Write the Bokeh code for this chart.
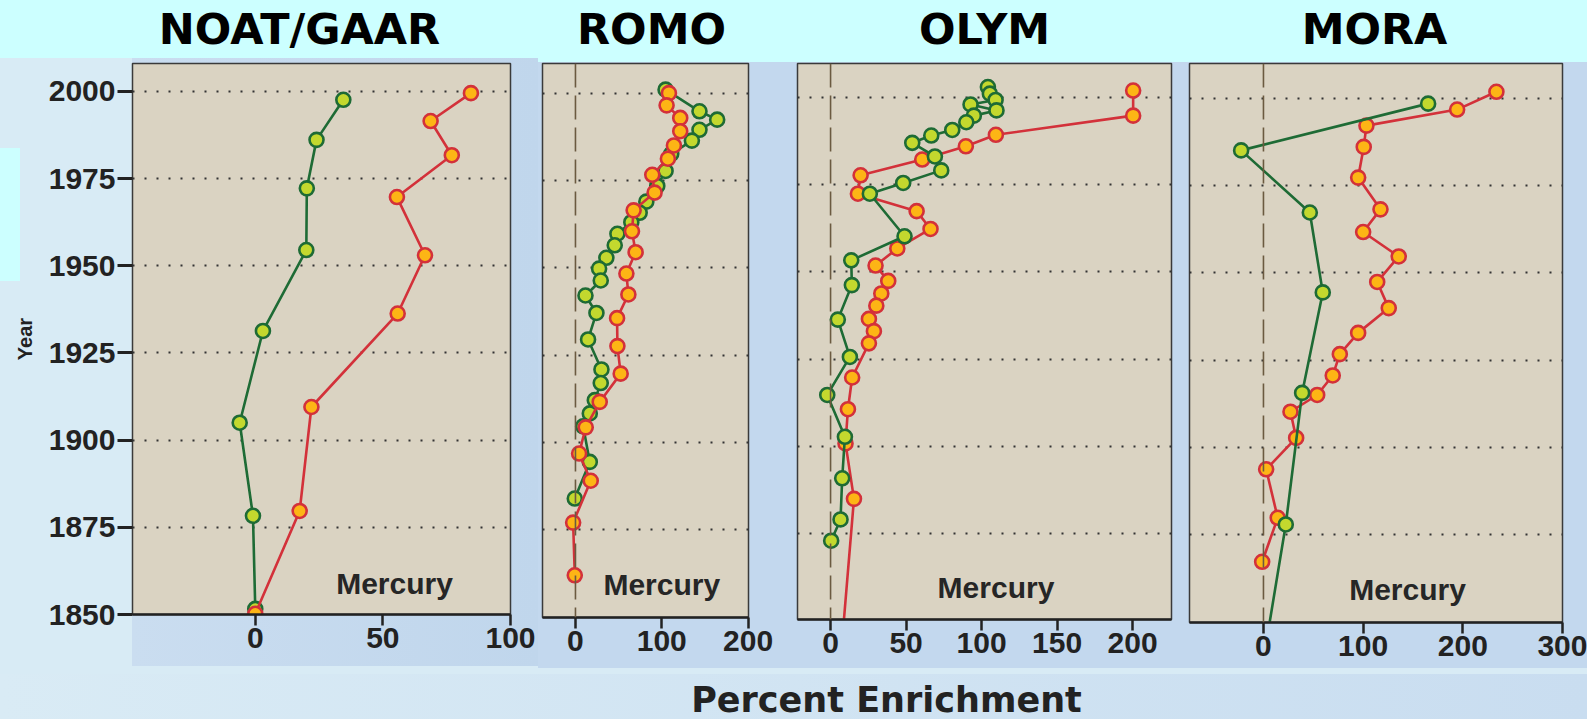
from bokeh.plotting import figure
from bokeh.layouts import row, column
from bokeh.models import Span, Label, FixedTicker, Range1d, Grid
from bokeh.embed import file_html
from bokeh.resources import INLINE

# ---------------- data ----------------
panel_titles = ["NOAT/GAAR", "ROMO", "OLYM", "MORA"]
element_label = "Mercury"
x_label = "Percent Enrichment"
y_label = "Year"

year_ticks = [1850, 1875, 1900, 1925, 1950, 1975, 2000]
grid_years = [1875, 1900, 1925, 1950, 1975, 2000]
noat_x_ticks = [0, 50, 100]
romo_x_ticks = [0, 100, 200]
olym_x_ticks = [0, 50, 100, 150, 200]
mora_x_ticks = [0, 100, 200, 300]

noat_green_year = [1997.6, 1986.1, 1972.2, 1954.5, 1931.3, 1905.0, 1878.3, 1851.6]
noat_green_val = [34.5, 24.0, 20.2, 20.0, 3.0, -6.1, -0.9, 0.0]
noat_red_year = [1999.5, 1991.5, 1981.7, 1969.7, 1953.0, 1936.3, 1909.5, 1879.7, 1850.2]
noat_red_val = [84.5, 68.7, 77.0, 55.5, 66.5, 55.8, 22.0, 17.4, 0.0]

romo_red_year = [2000.1, 1996.6, 1993.0, 1989.2, 1985.1, 1981.3, 1976.7, 1971.6, 1966.5, 1960.5, 1954.5,
                 1948.4, 1942.4, 1935.6, 1927.6, 1919.7, 1911.6, 1904.3, 1896.8, 1889.0, 1877.0, 1861.9]
romo_red_val = [108.3, 105.6, 121.4, 121.4, 114.1, 107.1, 89.0, 91.7, 67.4, 65.5, 69.7,
                59.0, 61.3, 48.2, 48.6, 52.4, 28.1, 11.9, 4.2, 17.7, -2.7, -0.8]
romo_green_year = [2001.1, 1994.9, 1992.5, 1989.6, 1986.5, 1982.7, 1977.8, 1973.5, 1969.0, 1965.8, 1963.1,
                   1959.8, 1956.5, 1952.9, 1949.8, 1946.4, 1942.1, 1937.1, 1929.5, 1920.9, 1917.0, 1912.1,
                   1908.3, 1904.6, 1894.4, 1883.9]
romo_green_val = [104.4, 143.7, 164.2, 143.7, 134.9, 111.0, 104.4, 94.8, 82.1, 74.4, 64.7,
                  48.6, 45.5, 35.8, 27.4, 29.3, 11.6, 24.3, 14.6, 30.1, 29.3, 22.4,
                  16.6, 8.9, 16.6, -0.8]

olym_red_year = [2002.0, 1994.8, 1989.3, 1986.0, 1982.2, 1977.7, 1972.4, 1967.4, 1962.3, 1956.7, 1951.8,
                 1947.4, 1943.8, 1940.3, 1936.5, 1933.0, 1929.5, 1919.7, 1910.6, 1900.8, 1884.9]
olym_red_val = [200.4, 200.4, 109.5, 89.6, 60.7, 19.9, 18.1, 57.0, 66.2, 44.2, 29.8,
                38.2, 33.6, 30.3, 25.4, 28.7, 25.4, 14.3, 11.5, 9.9, 15.5]
olym_red_tail_year = [1850.0]
olym_red_tail_val = [8.8]
olym_green_year = [2003.0, 2001.1, 1999.3, 1998.0, 1996.3, 1994.8, 1992.9, 1990.7, 1989.1, 1987.0, 1983.1,
                   1979.1, 1975.5, 1972.4, 1960.2, 1953.3, 1946.2, 1936.3, 1925.6, 1914.7, 1902.7, 1890.8,
                   1879.0, 1872.9]
olym_green_val = [104.2, 105.5, 109.3, 92.7, 109.9, 94.9, 89.9, 80.6, 66.7, 54.1, 69.1,
                  73.3, 48.1, 26.0, 49.0, 13.7, 14.1, 4.8, 12.8, -2.2, 9.5, 7.7,
                  6.6, 0.4]

mora_red_year = [2001.9, 1996.8, 1992.2, 1986.1, 1977.3, 1968.2, 1961.7, 1954.7, 1947.4, 1939.9, 1932.8,
                 1926.7, 1920.6, 1915.0, 1910.2, 1902.7, 1893.7, 1879.8, 1867.2]
mora_red_val = [233.7, 194.3, 103.3, 100.6, 95.0, 117.4, 100.0, 135.7, 114.1, 125.7, 95.0,
                76.6, 69.5, 53.9, 27.1, 32.8, 2.7, 14.3, -1.3]
mora_green_year = [1998.5, 1985.1, 1967.3, 1944.4, 1915.6, 1877.9]
mora_green_val = [165.2, -22.4, 46.5, 59.5, 38.8, 22.4]
mora_green_tail_year = [1850.0]
mora_green_tail_val = [6.3]

# ---------------- style ----------------
TAN = "#DAD3C2"
CYAN = "#CCFFFF"
LIGHT = "#D8EBF5"
BLUE = "#C3D8EE"
GREEN_LINE = "#1E6B35"
GREEN_FILL = "#C3D82E"
RED_LINE = "#D3313A"
RED_FILL = "#FDB515"
TXT = "#222222"
TITLE_CENTERS = [299, 651, 984, 1374]


def solid(c):
    return f"linear-gradient({c},{c})"


def blank_fig(width, height):
    f = figure(width=width, height=height, x_range=Range1d(0, width), y_range=Range1d(0, height),
               output_backend="svg", toolbar_location=None, min_border=0,
               x_axis_location=None, y_axis_location=None)
    f.outline_line_color = None
    f.background_fill_alpha = 0
    f.border_fill_alpha = 0
    f.xgrid.visible = False
    f.ygrid.visible = False
    return f


def make_panel(xr, yr, xticks, width, height, left, right, css_bg, show_y=False, zero_line=True):
    p = figure(width=width, height=height, x_range=Range1d(*xr), y_range=Range1d(*yr),
               output_backend="svg", toolbar_location=None,
               min_border_left=left, min_border_right=right, min_border_top=5, min_border_bottom=52,
               y_axis_location="left" if show_y else None)
    p.border_fill_alpha = 0
    p.background_fill_color = TAN
    p.outline_line_color = "#3a3a3a"
    p.outline_line_width = 1.5
    p.xgrid.visible = False
    p.ygrid.visible = False
    p.add_layout(Grid(dimension=1, ticker=FixedTicker(ticks=grid_years), grid_line_color="#333333",
                      grid_line_dash="2 10", grid_line_width=2))
    ax = p.xaxis[0]
    ax.ticker = FixedTicker(ticks=xticks)
    ax.major_label_text_font = "Liberation Sans"
    ax.major_label_text_font_size = "30px"
    ax.major_label_text_font_style = "bold"
    ax.major_label_text_color = TXT
    ax.major_label_standoff = 2
    ax.major_tick_out = 11
    ax.major_tick_in = 0
    ax.minor_tick_out = 0
    ax.minor_tick_in = 0
    ax.major_tick_line_width = 2.5
    ax.major_tick_line_color = TXT
    ax.axis_line_width = 2.5
    ax.axis_line_color = TXT
    if show_y:
        ay = p.yaxis[0]
        ay.ticker = FixedTicker(ticks=year_ticks)
        ay.major_label_text_font = "Liberation Sans"
        ay.major_label_text_font_size = "30px"
        ay.major_label_text_font_style = "bold"
        ay.major_label_text_color = TXT
        ay.major_label_standoff = 2
        ay.major_tick_out = 15
        ay.major_tick_in = 0
        ay.minor_tick_out = 0
        ay.minor_tick_in = 0
        ay.major_tick_line_width = 3
        ay.major_tick_line_color = TXT
        ay.axis_line_color = None
        ay.axis_label = y_label
        ay.axis_label_text_font = "Liberation Sans"
        ay.axis_label_text_font_size = "20px"
        ay.axis_label_text_font_style = "bold"
        ay.axis_label_text_color = TXT
        ay.axis_label_standoff = 10
    if zero_line:
        p.add_layout(Span(location=0, dimension="height", line_color="#6b5a40",
                          line_dash="24 8", line_width=1.6))
    p.styles = {"background": css_bg}
    return p


def add_series(p, years, vals, line_c, fill_c, tail_years=None, tail_vals=None):
    ly = list(years) + (list(tail_years) if tail_years else [])
    lv = list(vals) + (list(tail_vals) if tail_vals else [])
    p.line(lv, ly, line_color=line_c, line_width=2.6)
    p.scatter(vals, years, size=14, marker="circle", fill_color=fill_c,
              line_color=line_c, line_width=2.6)


def add_mercury(p, x, y):
    p.add_layout(Label(x=x, y=y, text=element_label, text_font="Liberation Sans",
                       text_font_size="30px", text_font_style="bold", text_color="#262626",
                       text_baseline="alphabetic", text_align="left"))


# Title strip (full width)
pt = blank_fig(1587, 58)
for ttl, cx in zip(panel_titles, TITLE_CENTERS):
    pt.add_layout(Label(x=cx, y=30, text=ttl, text_align="center", text_baseline="middle",
                        text_font="DejaVu Sans", text_font_size="43px", text_font_style="bold",
                        text_color="#000000"))
pt.styles = {"background": CYAN}

# Panel 1 (frame 63..614)
bg1 = (f"{solid(CYAN)} 0 90px / 20px 133px no-repeat, "
       f"linear-gradient(to right, #CADDF0, #C0D6EC) 132px 0 / 406px 610px no-repeat, {LIGHT}")
p1 = make_panel((-48.1, 100), (1850, 2008.0), noat_x_ticks, 538, 608, 132, 28, bg1,
                show_y=True, zero_line=False)
add_series(p1, noat_green_year, noat_green_val, GREEN_LINE, GREEN_FILL)
add_series(p1, noat_red_year, noat_red_val, RED_LINE, RED_FILL)
add_mercury(p1, 31.7, 1858.9)

# Panel 2 (frame 63..617)
bg2 = f"{solid(CYAN)} 0 0 / 100% 4px no-repeat, {solid(BLUE)} 0 4px / 100% 606px no-repeat, {LIGHT}"
p2 = make_panel((-38.2, 200.5), (1849.8, 2008.6), romo_x_ticks, 244, 611, 4, 34, bg2)
add_series(p2, romo_green_year, romo_green_val, GREEN_LINE, GREEN_FILL)
add_series(p2, romo_red_year, romo_red_val, RED_LINE, RED_FILL)
add_mercury(p2, 32.4, 1859.4)

# Panel 3 (frame 63..619)
bg3 = f"{solid(CYAN)} 0 0 / 100% 4px no-repeat, {solid(BLUE)} 0 4px / 100% 606px no-repeat, {LIGHT}"
p3 = make_panel((-21.9, 225.8), (1850.3, 2009.75), olym_x_ticks, 398, 613, 15, 9, bg3)
add_series(p3, olym_red_year, olym_red_val, RED_LINE, RED_FILL, olym_red_tail_year, olym_red_tail_val)
add_series(p3, olym_green_year, olym_green_val, GREEN_LINE, GREEN_FILL)
add_mercury(p3, 70.9, 1859.4)

# Panel 4 (frame 63..622)
bg4 = f"{solid(CYAN)} 0 0 / 100% 4px no-repeat, {solid(BLUE)} 0 4px / 100% 606px no-repeat, {LIGHT}"
p4 = make_panel((-74.2, 300), (1849.8, 2010.0), mora_x_ticks, 407, 616, 9, 25, bg4)
add_series(p4, mora_red_year, mora_red_val, RED_LINE, RED_FILL)
add_series(p4, mora_green_year, mora_green_val, GREEN_LINE, GREEN_FILL, mora_green_tail_year, mora_green_tail_val)
add_mercury(p4, 86.0, 1859.4)

# Bottom label strip
pb = blank_fig(1587, 45)
pb.add_layout(Label(x=886, y=20, text=x_label, text_align="center", text_baseline="middle",
                    text_font="DejaVu Sans", text_font_size="35px", text_font_style="bold",
                    text_color=TXT))
pb.styles = {"background": "linear-gradient(to right, #D9EBF5, #C9DDF0)"}

panels = row(p1, p2, p3, p4, spacing=0)
layout = column(pt, panels, pb, spacing=0)
layout.styles = {"background": LIGHT}

open("out.html", "w").write(file_html(layout, INLINE))
